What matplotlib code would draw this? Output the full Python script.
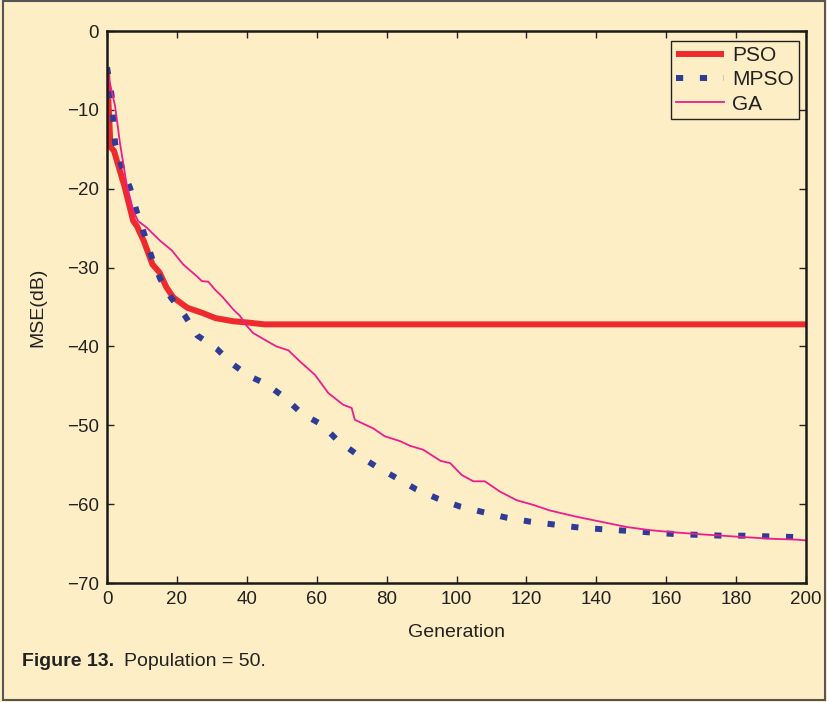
import matplotlib
matplotlib.use('Agg')
import matplotlib.pyplot as plt
from matplotlib.patches import Rectangle

plt.rcParams['font.family'] = ['Liberation Sans', 'DejaVu Sans']

# curves (generation, MSE in dB)
pso_x = [0, 1, 2, 5, 7.5, 8.5, 10.5, 13, 15, 17, 19, 23, 27, 31, 36, 41, 45, 200]
pso_y = [-5, -14.7, -15.2, -19.7, -24.1, -24.7, -26.6, -29.6, -30.6, -32.5, -33.8,
         -35.1, -35.7, -36.4, -36.8, -37.0, -37.2, -37.2]

mpso_x = [0, 1.3, 1.8, 2.3, 4.2, 6.6, 8.5, 10.7, 12.8, 15.2, 18.3, 22.3, 25.8, 31.4,
          36.1, 40.4, 45.7, 50.9, 55.7, 61.4, 65.7, 71.2, 76.9, 82.9, 88.4, 94.6, 101,
          107.5, 114.2, 120.8, 128.2, 135.6, 142.5, 149.4, 156, 162.8, 169.7, 176.3,
          183.3, 190.2, 200]
mpso_y = [-4.6, -8.1, -11.2, -14.2, -17.2, -19.9, -22.9, -25.8, -28.7, -31.4, -33.8,
          -36.1, -38.6, -40.3, -42.3, -43.7, -44.8, -46.5, -48.5, -49.9, -51.8, -53.6,
          -55.2, -56.7, -58.1, -59.3, -60.3, -61.0, -61.7, -62.2, -62.6, -63.0, -63.2,
          -63.4, -63.6, -63.8, -63.9, -64.0, -64.0, -64.1, -64.2]

ga_x = [0, 2.3, 3.7, 5.6, 7.5, 8.9, 11.3, 15.2, 18.5, 21.8, 25.7, 27.1, 29, 30.9, 33,
        36.1, 38, 40, 41.8, 45.7, 48.5, 51.9, 55.2, 59.5, 63.3, 67.6, 70, 70.9, 76.2,
        79.5, 83.8, 86.7, 90.5, 95.4, 98.2, 101.5, 104.8, 108.1, 112.4, 117.2, 122,
        126.7, 134.4, 141, 148.7, 155.4, 163, 172.5, 183, 190.6, 197.3, 200]
ga_y = [-5, -9.5, -14.2, -19.4, -22.8, -24.1, -24.9, -26.6, -27.8, -29.6, -31.1, -31.7,
        -31.8, -32.8, -33.7, -35.3, -36.1, -37.4, -38.3, -39.3, -40.0, -40.5, -41.9,
        -43.6, -45.9, -47.4, -47.8, -49.3, -50.4, -51.4, -52.0, -52.6, -53.1, -54.5,
        -54.8, -56.3, -57.1, -57.1, -58.4, -59.5, -60.1, -60.8, -61.6, -62.2, -62.9,
        -63.3, -63.6, -63.9, -64.2, -64.4, -64.5, -64.6]

bg = '#FDEEC5'
fig = plt.figure(figsize=(8.27, 7.02), dpi=100, facecolor=bg)
ax = fig.add_axes([0.1294, 0.1695, 0.8452, 0.7863])
ax.set_facecolor(bg)

ax.plot(pso_x, pso_y, color='#EE2A2E', lw=4.3, label='PSO', solid_capstyle='butt')
ax.plot(mpso_x, mpso_y, color='#2E3C96', lw=4.3, linestyle=(0, (1.2, 2.8)),
        dash_capstyle='butt', label='MPSO')
ax.plot(ga_x, ga_y, color='#EE1C8E', lw=1.3, label='GA')

ax.set_xlim(0, 200)
ax.set_ylim(-70, 0)
ax.set_xticks(range(0, 201, 20))
ax.set_yticks(range(-70, 1, 10))
ax.set_yticklabels([str(v).replace('-', '\u2212') for v in range(-70, 1, 10)])
ax.tick_params(direction='in', length=5, width=1, top=True, right=True,
               labelsize=13.5, colors='#222222', pad=6)
for s in ax.spines.values():
    s.set_linewidth(1.8)
    s.set_color('#1a1a1a')

ax.set_xlabel('Generation', fontsize=14, color='#222222')
ax.set_ylabel('MSE(dB)', fontsize=14, color='#222222')
ax.xaxis.set_label_coords(0.5, -0.074)
ax.yaxis.set_label_coords(-0.087, 0.5)

leg = ax.legend(loc='upper right', bbox_to_anchor=(0.9662, 0.9416),
                bbox_transform=fig.transFigure, fontsize=15, frameon=True,
                fancybox=False, edgecolor='#222222', facecolor=bg, framealpha=1,
                handlelength=2.3, handletextpad=0.4, labelspacing=0.25,
                borderpad=0.25, borderaxespad=0)
leg.get_frame().set_linewidth(1.0)
for t in leg.get_texts():
    t.set_color('#222222')

fig.text(0.027, 0.057, 'Figure 13.', fontsize=14, fontweight='bold',
         color='#222222', va='center')
fig.text(0.150, 0.057, 'Population = 50.', fontsize=14, color='#222222', va='center')

fig.patches.append(Rectangle((0.004, 0.003), 0.993, 0.995, transform=fig.transFigure,
                             fill=False, edgecolor='#555555', lw=1.5))

fig.savefig('out.png', dpi=100, facecolor=bg)
